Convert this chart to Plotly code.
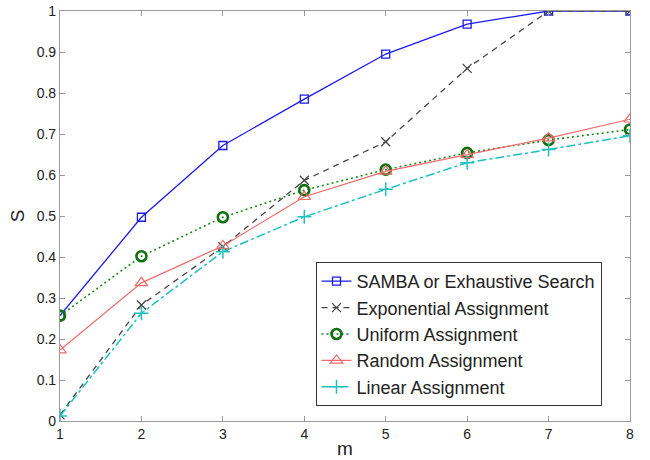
import plotly.graph_objects as go

m = [1, 2, 3, 4, 5, 6, 7, 8]
samba = [0.257, 0.497, 0.672, 0.785, 0.895, 0.968, 1.0, 1.0]
exponential = [0.015, 0.283, 0.425, 0.587, 0.681, 0.860, 1.0, 1.0]
uniform = [0.257, 0.402, 0.497, 0.563, 0.613, 0.654, 0.685, 0.711]
random_a = [0.173, 0.337, 0.427, 0.547, 0.609, 0.649, 0.690, 0.736]
linear = [0.012, 0.263, 0.413, 0.498, 0.565, 0.630, 0.662, 0.696]

names = ["SAMBA or Exhaustive Search", "Exponential Assignment", "Uniform Assignment",
         "Random Assignment", "Linear Assignment"]

fig = go.Figure()
fig.add_trace(go.Scatter(x=m, y=samba, name=names[0], mode="lines+markers",
                         line=dict(color="#1a1aee", width=1.3),
                         marker=dict(symbol="square-open", size=8, color="#1a1aee", line=dict(width=1.3))))
fig.add_trace(go.Scatter(x=m, y=exponential, name=names[1], mode="lines+markers",
                         line=dict(color="#454545", width=1.3, dash="6px,5px"),
                         marker=dict(symbol="x-thin", size=9, color="#454545", line=dict(width=1.3, color="#454545"))))
fig.add_trace(go.Scatter(x=m, y=uniform, name=names[2], mode="lines+markers",
                         line=dict(color="#1a8a1a", width=1.6, dash="2px,3px"),
                         marker=dict(symbol="circle-open", size=10, color="#107010", line=dict(width=2.6))))
fig.add_trace(go.Scatter(x=m, y=random_a, name=names[3], mode="lines+markers",
                         line=dict(color="#f06a6a", width=1.2),
                         marker=dict(symbol="triangle-up-open", size=11, color="#f06a6a", line=dict(width=1.2))))
fig.add_trace(go.Scatter(x=m, y=linear, name=names[4], mode="lines+markers",
                         line=dict(color="#1fc0c0", width=1.5, dash="dashdot"),
                         marker=dict(symbol="cross-thin", size=10, color="#1fc0c0", line=dict(width=1.5, color="#1fc0c0"))))

axis_common = dict(showgrid=False, zeroline=False, showline=True, linecolor="#999999", linewidth=1.2,
                   mirror="ticks", ticks="inside", ticklen=5, tickcolor="#999999", automargin=False,
                   tickfont=dict(size=14, color="#222222"))

fig.update_layout(
    width=650, height=460,
    margin=dict(l=60, r=20, t=11, b=39),
    paper_bgcolor="white", plot_bgcolor="white",
    font=dict(family="Liberation Sans, Arial, sans-serif", color="#222222"),
    xaxis=dict(range=[1, 8], tickvals=m, title=dict(text="m", font=dict(size=19), standoff=0), **axis_common),
    yaxis=dict(range=[0, 1], tickvals=[0, 0.1, 0.2, 0.3, 0.4, 0.5, 0.6, 0.7, 0.8, 0.9, 1],
               ticktext=["0", "0.1", "0.2", "0.3", "0.4", "0.5", "0.6", "0.7", "0.8", "0.9", "1"],
               title=dict(text="S", font=dict(size=19), standoff=6), **axis_common),
    legend=dict(x=0.95, y=0.0366, xanchor="right", yanchor="bottom",
                bordercolor="#333333", borderwidth=1, bgcolor="white",
                font=dict(size=18, color="#222222"), tracegroupgap=0, itemwidth=30),
    showlegend=True,
)

fig.write_html("out.html", config={"displayModeBar": False},
               post_script="document.body.style.margin='0';")
